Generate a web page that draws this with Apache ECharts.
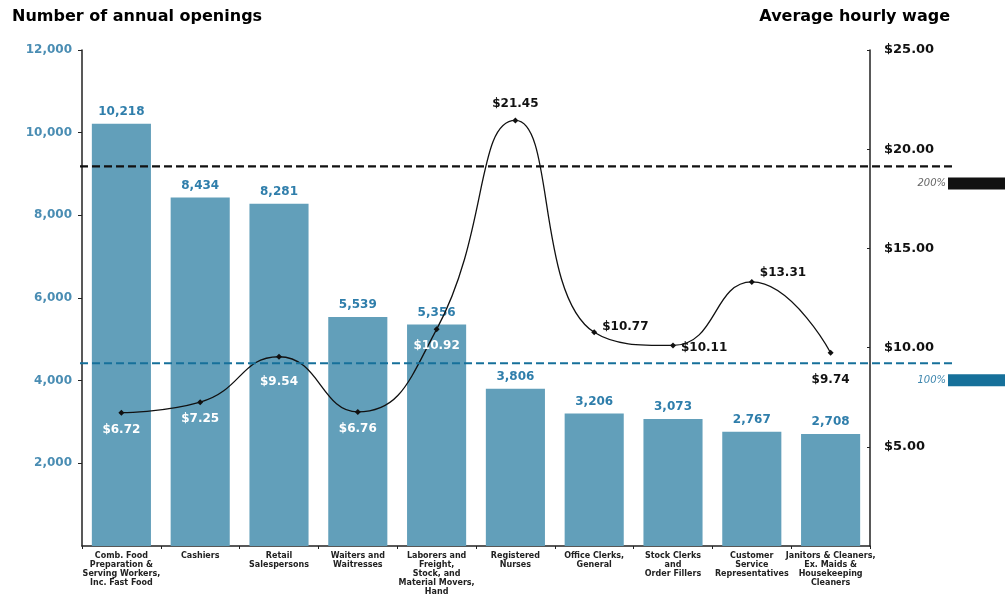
<!DOCTYPE html>
<html>
<head>
<meta charset="utf-8">
<script src="https://cdn.jsdelivr.net/npm/echarts@6/dist/echarts.min.js"></script>
<style>
  html, body { margin: 0; padding: 0; background: #fff; }
  #chart { width: 1005px; height: 598px; }
</style>
</head>
<body>
<div id="chart"></div>
<script>
// Occupations with the most annual openings
const categories = [
  'Comb. Food\nPreparation &\nServing Workers,\nInc. Fast Food',
  'Cashiers',
  'Retail\nSalespersons',
  'Waiters and\nWaitresses',
  'Laborers and\nFreight,\nStock, and\nMaterial Movers,\nHand',
  'Registered\nNurses',
  'Office Clerks,\nGeneral',
  'Stock Clerks\nand\nOrder Fillers',
  'Customer\nService\nRepresentatives',
  'Janitors & Cleaners,\nEx. Maids &\nHousekeeping\nCleaners'
];
const openings = [10218, 8434, 8281, 5539, 5356, 3806, 3206, 3073, 2767, 2708];
const wages = [6.72, 7.25, 9.54, 6.76, 10.92, 21.45, 10.77, 10.11, 13.31, 9.74];
const levelNames = ['200%', '100%'];
const levelWages = [19.13, 9.21];
const leftTicks = [0, 12000, 2000];   // min, max, interval
const rightTicks = [0, 25, 5];

const FONT = 'DejaVu Sans';
const BAR = '#629fba';
const BLUE_TEXT = '#2f7eab';
const LEVEL_COLORS = ['#111111', '#16709a'];
const LEVEL_TEXT = ['#666666', '#3d86ae'];

// wage label placement per point
function wageLabel(i) {
  const base = {
    show: true, fontFamily: FONT, fontSize: 12, fontWeight: 'bold',
    formatter: p => '$' + p.value.toFixed(2)
  };
  if (i < 5) {
    return Object.assign(base, { color: '#ffffff', position: 'bottom', distance: i === 2 ? 16 : 8 });
  }
  const c = { color: '#111' };
  if (i === 5) return Object.assign(base, c, { position: 'top', distance: 8 });
  if (i === 6) return Object.assign(base, c, { position: 'right', distance: 5, offset: [0, -5] });
  if (i === 7) return Object.assign(base, c, { position: 'right', distance: 5, offset: [0, 2] });
  if (i === 8) return Object.assign(base, c, { position: 'right', distance: 5, offset: [0, -9] });
  return Object.assign(base, c, { position: 'bottom', distance: 18 });
}

const chart = echarts.init(document.getElementById('chart'), null, { renderer: 'canvas' });

const option = {
  animation: false,
  backgroundColor: '#ffffff',
  textStyle: { fontFamily: FONT },
  grid: { left: 82, right: 135, top: 50, bottom: 52 },
  xAxis: {
    type: 'category',
    data: categories,
    axisLine: { lineStyle: { color: '#222', width: 1.5 } },
    axisTick: { show: true, length: 3, lineStyle: { color: '#222' } },
    axisLabel: {
      interval: 0, fontFamily: FONT, fontSize: 8, fontWeight: 'bold',
      color: '#222', lineHeight: 9, margin: 5
    }
  },
  yAxis: [
    {
      type: 'value',
      min: leftTicks[0], max: leftTicks[1], interval: leftTicks[2],
      position: 'left',
      axisLine: { show: true, lineStyle: { color: '#222', width: 1.5 } },
      axisTick: { show: true, length: 4, lineStyle: { color: '#222' } },
      splitLine: { show: false },
      axisLabel: {
        showMinLabel: false, fontFamily: FONT, fontSize: 12, fontWeight: 'bold',
        color: '#4a8db3', margin: 10,
        formatter: v => v.toLocaleString('en-US')
      }
    },
    {
      type: 'value',
      min: rightTicks[0], max: rightTicks[1], interval: rightTicks[2],
      position: 'right',
      axisLine: { show: true, lineStyle: { color: '#222', width: 1.5 } },
      axisTick: { show: true, inside: true, length: 3, lineStyle: { color: '#222' } },
      splitLine: { show: false },
      axisLabel: {
        showMinLabel: false, fontFamily: FONT, fontSize: 13, fontWeight: 'bold', color: '#111', margin: 14,
        formatter: v => '$' + v.toFixed(2)
      }
    }
  ],
  series: [
    {
      type: 'bar',
      name: 'Annual openings',
      data: openings,
      barWidth: '75%',
      itemStyle: { color: BAR },
      label: {
        show: true, position: 'top', distance: 6,
        fontFamily: FONT, fontSize: 12, fontWeight: 'bold', color: BLUE_TEXT,
        formatter: p => p.value.toLocaleString('en-US')
      },
      z: 2
    },
    {
      type: 'line',
      name: 'Average hourly wage',
      yAxisIndex: 1,
      smooth: 0.5,
      data: wages.map((v, i) => ({ value: v, label: wageLabel(i) })),
      symbol: 'diamond',
      symbolSize: 6,
      itemStyle: { color: '#111' },
      lineStyle: { color: '#111', width: 1.3 },
      z: 5
    }
  ]
};
chart.setOption(option);

// wage level reference lines and their side markers
const graphics = [
  { type: 'text', left: 12, top: 9, style: { text: 'Number of annual openings', fontFamily: FONT, fontSize: 16, fontWeight: 900, fill: '#000' } },
  { type: 'text', right: 55, top: 9, style: { text: 'Average hourly wage', fontFamily: FONT, fontSize: 16, fontWeight: 900, fill: '#000' } }
];
levelWages.forEach((w, i) => {
  const y = chart.convertToPixel({ yAxisIndex: 1 }, w);
  graphics.push({
    type: 'line', z: 20,
    shape: { x1: 80, y1: y, x2: 956, y2: y },
    style: { stroke: LEVEL_COLORS[i], lineWidth: 2.2, lineDash: [8, 4] }
  });
  graphics.push({
    type: 'rect', z: 20,
    shape: { x: 948, y: y + 11, width: 57, height: 12 },
    style: { fill: LEVEL_COLORS[i] }
  });
  graphics.push({
    type: 'text', z: 20,
    x: 946, y: y + 17,
    style: {
      text: levelNames[i], fontFamily: FONT, fontSize: 10, fontStyle: 'italic',
      fill: LEVEL_TEXT[i], align: 'right', verticalAlign: 'middle'
    }
  });
});
chart.setOption({ graphic: graphics });
</script>
</body>
</html>
